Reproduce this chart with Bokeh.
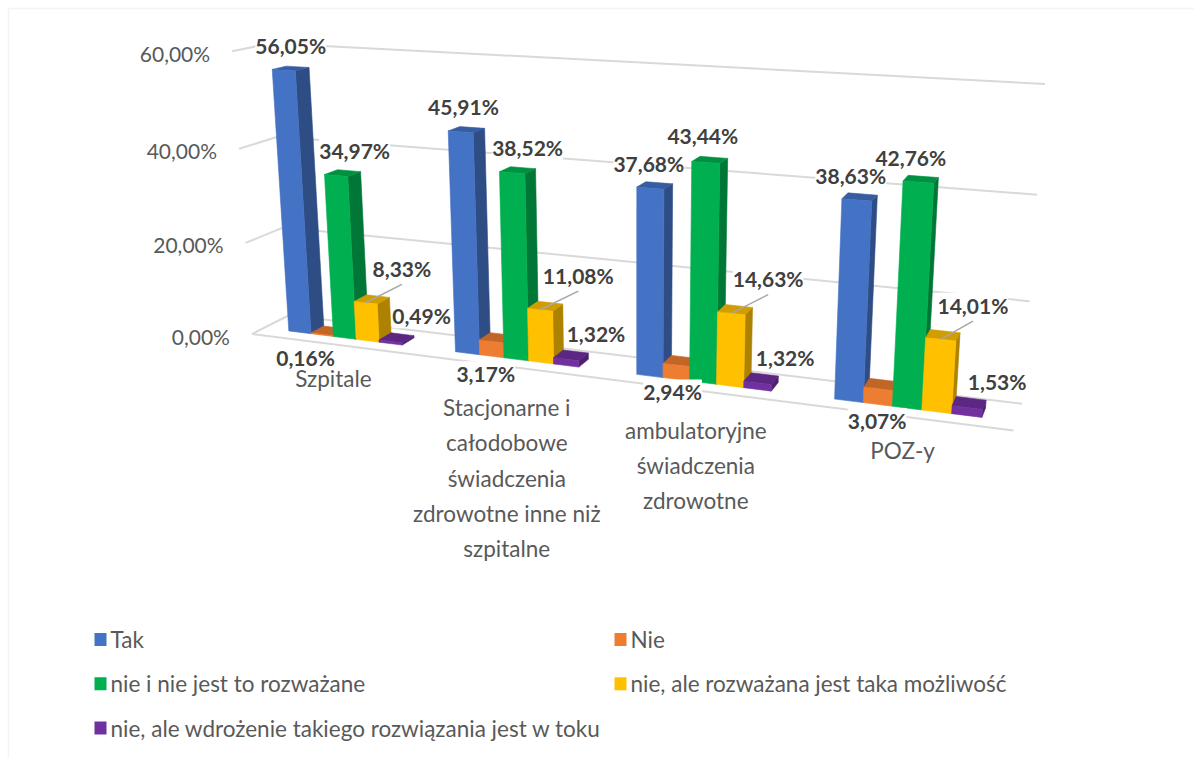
import textwrap
import numpy as np
from bokeh.plotting import figure
from bokeh.models import Range1d, ColumnDataSource, BoxAnnotation
from bokeh.core.properties import value
from bokeh.embed import file_html
from bokeh.resources import INLINE

# ---------------- data ----------------
categories = ["Szpitale",
              "Stacjonarne i całodobowe świadczenia zdrowotne inne niż szpitalne",
              "ambulatoryjne świadczenia zdrowotne",
              "POZ-y"]
series_names = ["Tak", "Nie", "nie i nie jest to rozważane",
                "nie, ale rozważana jest taka możliwość",
                "nie, ale wdrożenie  takiego rozwiązania jest w toku"]
tak = [56.05, 45.91, 37.68, 38.63]
nie = [0.16, 3.17, 2.94, 3.07]
nie_nie = [34.97, 38.52, 43.44, 42.76]
nie_rozwazana = [8.33, 11.08, 14.63, 14.01]
nie_wdrozenie = [0.49, 1.32, 1.32, 1.53]
y_ticks = [0, 20, 40, 60]
colors = ["#4472C4", "#ED7D31", "#00B050", "#FFC000", "#7030A0"]
series = [tak, nie, nie_nie, nie_rozwazana, nie_wdrozenie]

# ---------------- 3D view (perspective camera matrix, world -> page px) ----------------
# world: X = category axis (one unit per category), Y = value in %, Z = depth (0 front, 1 back wall)
VIEW = np.array([[149.4213, -0.5197241, 48.76635, 251.4544],
                 [6.738628, -4.754055, -5.991048, 333.5191],
                 [-0.04043221, -0.0008176748, 0.04059873, 1.0]])
GAP_WIDTH = 2.25           # gap between clusters, in bar widths
BAR_DEPTH = 0.36           # bar depth as share of floor depth
BW = 1.0 / (5 + GAP_WIDTH)
X_OFF = GAP_WIDTH * BW / 2
ZF = 0.5 - BAR_DEPTH / 2
ZB = 0.5 + BAR_DEPTH / 2

# data-label offsets (px) from the centre of each bar's top face
LABEL_DX = [[0, -3, -6, -9], [-23, -11, -8, -4], [12, 10, -7, -10], [30, 33, 33, 30], [25, 25, 24, 28]]
LABEL_DY = [[-23, -23, -22, -21], [27, 36, 31, 36], [-23, -23, -24, -22], [-31, -31, -31, -30], [-22, -22, -21, -21]]
LEADER_SERIES = 3
CAT_DY = [21, 28, 27, 21]


def proj(X, Y, Z):
    X = np.atleast_1d(np.asarray(X, float))
    Y = np.broadcast_to(np.asarray(Y, float), X.shape)
    Z = np.broadcast_to(np.asarray(Z, float), X.shape)
    h = VIEW @ np.array([X, Y, Z, np.ones_like(X)])
    return h[0] / h[2], h[1] / h[2]


def pt(X, Y, Z):
    u, v = proj(X, Y, Z)
    return float(u[0]), float(v[0])


def shade(h, f):
    h = h.lstrip("#")
    r, g, b = (int(h[k:k + 2], 16) for k in (0, 2, 4))
    return "#%02x%02x%02x" % (int(r * f), int(g * f), int(b * f))


def pct(v):
    return ("%.2f" % v).replace(".", ",") + "%"


FONT = value("Lato")
GRAY = "#595959"
DARK = "#404040"
GRID = "#d9d9d9"

p = figure(width=1194, height=758, x_range=Range1d(0, 1194), y_range=Range1d(758, 0),
           output_backend="svg", toolbar_location=None, min_border=0,
           x_axis_location=None, y_axis_location=None)
p.grid.visible = False
p.outline_line_color = None
p.background_fill_color = "white"
p.border_fill_color = "white"
p.add_layout(BoxAnnotation(left=8, top=8, right=1300, bottom=900, fill_alpha=0,
                           line_color=GRID, line_width=1.5))

# ---------------- walls / gridlines ----------------
n_cat = len(categories)
gx0, gy0, gx1, gy1 = [], [], [], []
for t in y_ticks:
    a = pt(0, t, 0); b = pt(0, t, 1); d = pt(n_cat, t, 1)
    gx0 += [a[0], b[0]]; gy0 += [a[1], b[1]]; gx1 += [b[0], d[0]]; gy1 += [b[1], d[1]]
a = pt(0, 0, 0); d = pt(n_cat, 0, 0)
gx0.append(a[0]); gy0.append(a[1]); gx1.append(d[0]); gy1.append(d[1])
p.segment(gx0, gy0, gx1, gy1, line_color=GRID, line_width=2)

# ---------------- bars (painted left to right) ----------------
xs, ys, fc = [], [], []
for i in range(n_cat):
    for j, vals in enumerate(series):
        v = vals[i]
        x0 = i + X_OFF + j * BW
        x1 = x0 + BW
        faces = [
            ([x1, x1, x1, x1], [0, 0, v, v], [ZF, ZB, ZB, ZF], shade(colors[j], 0.68)),
            ([x0, x1, x1, x0], [v, v, v, v], [ZF, ZF, ZB, ZB], shade(colors[j], 0.82)),
            ([x0, x1, x1, x0], [0, 0, v, v], [ZF, ZF, ZF, ZF], colors[j]),
        ]
        for X, Y, Z, col in faces:
            u, w = proj(X, Y, Z)
            xs.append(list(u)); ys.append(list(w)); fc.append(col)
p.patches(xs="xs", ys="ys", fill_color="fc", line_color="fc", line_width=0.6,
          source=ColumnDataSource(dict(xs=xs, ys=ys, fc=fc)))

# ---------------- data labels ----------------
lx, ly, lt = [], [], []
ldx0, ldy0, ldx1, ldy1 = [], [], [], []
for j, vals in enumerate(series):
    for i in range(n_cat):
        v = vals[i]
        xm = i + X_OFF + (j + 0.5) * BW
        ax, ay = pt(xm, v, 0.5)
        cx, cy = ax + LABEL_DX[j][i], ay + LABEL_DY[j][i]
        lx.append(cx); ly.append(cy); lt.append(pct(v))
        if j == LEADER_SERIES:
            ex, ey = pt(xm, v, ZF)
            ldx0.append(cx); ldy0.append(cy + 16); ldx1.append(ex); ldy1.append(ey)
p.segment(ldx0, ldy0, ldx1, ldy1, line_color="#a6a6a6", line_width=1.5)
p.text(lx, ly, lt, text_font=FONT, text_font_style="bold", text_font_size="21px",
       text_color=DARK, text_align="center", text_baseline="middle",
       background_fill_color="white")

# ---------------- category labels ----------------
cx, cy, ct = [], [], []
for i, name in enumerate(categories):
    ax, ay = pt(i + 0.5, 0, 0)
    cx.append(ax); cy.append(ay + CAT_DY[i]); ct.append("\n".join(textwrap.wrap(name, 18)))
p.text(cx, cy, ct, text_font=FONT, text_font_size="22.5px", text_color=GRAY,
       text_align="center", text_baseline="top", text_line_height=1.3)

# ---------------- value axis labels ----------------
tx, ty, tt = [], [], []
for t in y_ticks:
    ax, ay = pt(0, t, 0)
    tx.append(ax - 22); ty.append(ay + 2); tt.append(pct(t))
p.text(tx, ty, tt, text_font=FONT, text_font_size="21px", text_color=GRAY,
       text_align="right", text_baseline="middle")

# ---------------- legend (2 columns) ----------------
LEG_X = [100, 620]
LEG_Y0, LEG_DY = 639, 44.3
sx, sy, tx2, ty2 = [], [], [], []
for k in range(len(series_names)):
    col, row = k % 2, k // 2
    sx.append(LEG_X[col]); sy.append(LEG_Y0 + row * LEG_DY)
    tx2.append(LEG_X[col] + 10); ty2.append(LEG_Y0 + row * LEG_DY)
p.rect(sx, sy, width=12, height=13, fill_color=colors, line_color=None)
p.text(tx2, ty2, series_names, text_font=FONT, text_font_size="22.5px", text_color=GRAY,
       text_align="left", text_baseline="middle")

open("out.html", "w").write(file_html(p, INLINE))
